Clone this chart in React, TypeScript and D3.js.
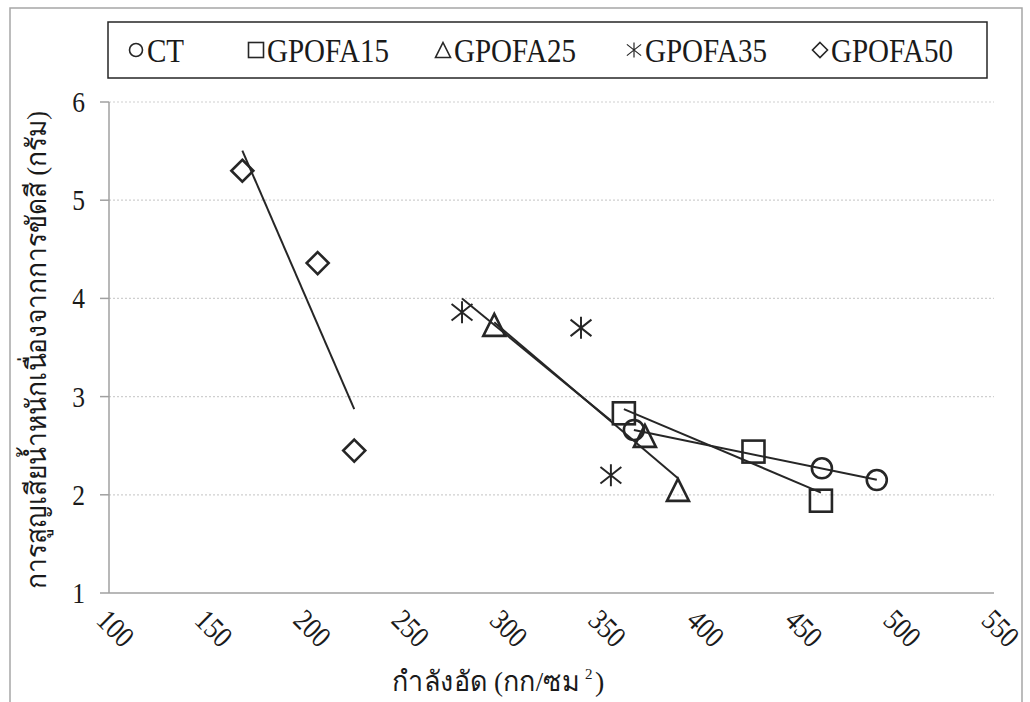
import React from "react";
import * as d3 from "d3";

const xTicks = [100, 150, 200, 250, 300, 350, 400, 450, 500, 550];
const yTicks = [1, 2, 3, 4, 5, 6];

const ctX = [366.9, 462.5, 490.4];
const ctY = [2.66, 2.27, 2.15];
const g15X = [361.8, 427.7, 462.0];
const g15Y = [2.83, 2.44, 1.94];
const g25X = [295.9, 372.5, 389.3];
const g25Y = [3.73, 2.6, 2.05];
const g35X = [279.5, 340.0, 355.2];
const g35Y = [3.86, 3.7, 2.2];
const g50X = [167.8, 206.1, 224.7];
const g50Y = [5.3, 4.36, 2.45];

const seriesNames = ["CT", "GPOFA15", "GPOFA25", "GPOFA35", "GPOFA50"];
const seriesShapes = ["circle", "square", "triangle", "star", "diamond"];
const seriesX = [ctX, g15X, g25X, g35X, g50X];
const seriesY = [ctY, g15Y, g25Y, g35Y, g50Y];

const yTitle = "การสูญเสียน้ำหนักเนื่องจากการขัดสี (กรัม)";
const xTitle = "กำลังอัด (กก/ซม";

const INK = "#262626";
const FONT = "'Liberation Serif', 'DejaVu Serif', serif";
const THAI = "Norasi, Kinnari, 'TH Sarabun New', 'Liberation Serif', serif";
const SX = 0.85;

function Marker({ shape, cx, cy, s, sw }: { shape: string; cx: number; cy: number; s: number; sw: number }) {
  const h = s / 2;
  if (shape === "circle") return <circle cx={cx} cy={cy} r={h - 1} fill="none" stroke={INK} strokeWidth={sw} />;
  if (shape === "square")
    return <rect x={cx - h} y={cy - h} width={s} height={s} fill="none" stroke={INK} strokeWidth={sw} />;
  if (shape === "triangle")
    return (
      <path d={`M${cx},${cy - h}L${cx + h},${cy + h}L${cx - h},${cy + h}Z`} fill="none" stroke={INK} strokeWidth={sw} />
    );
  if (shape === "diamond")
    return (
      <path d={`M${cx},${cy - h}L${cx + h},${cy}L${cx},${cy + h}L${cx - h},${cy}Z`} fill="none" stroke={INK} strokeWidth={sw} />
    );
  const a = h * 0.95;
  const b = h * 0.75;
  return (
    <path
      d={`M${cx},${cy - h}L${cx},${cy + h}M${cx - a},${cy - b}L${cx + a},${cy + b}M${cx - a},${cy + b}L${cx + a},${cy - b}`}
      fill="none"
      stroke={INK}
      strokeWidth={sw * 0.75}
    />
  );
}

function T({ x, y, size, anchor, rotate, children, sx }: any) {
  return (
    <g transform={`translate(${x},${y}) rotate(${rotate || 0}) scale(${sx || SX},1)`}>
      <text fontFamily={FONT} fontSize={size} textAnchor={anchor || "start"} fill="#1a1a1a">
        {children}
      </text>
    </g>
  );
}

export default function App() {
  const x = d3.scaleLinear().domain([100, 550]).range([109, 994]);
  const y = d3.scaleLinear().domain([1, 6]).range([593, 102]);

  const trend = (xs: number[], ys: number[]) => {
    const mx = d3.mean(xs)!;
    const my = d3.mean(ys)!;
    const sxy = d3.sum(xs.map((v, i) => (v - mx) * (ys[i] - my)));
    const sxx = d3.sum(xs.map((v) => (v - mx) * (v - mx)));
    const b = sxy / sxx;
    const [x0, x1] = d3.extent(xs) as [number, number];
    const line = d3.line<[number, number]>().x((d) => x(d[0])).y((d) => y(d[1]));
    return line([
      [x0, my + b * (x0 - mx)],
      [x1, my + b * (x1 - mx)],
    ])!;
  };

  const legendX = [128, 248, 435, 626, 812];

  return (
    <svg width={1030} height={702} style={{ position: "absolute", left: 0, top: 0, background: "#fff" }}>
      <rect x={10} y={8} width={1012} height={700} fill="#fff" stroke="#a6a6a6" strokeWidth={1.5} />
      {yTicks.filter((t) => t > 1).map((t) => (
        <line key={t} x1={x(100)} x2={x(550)} y1={y(t)} y2={y(t)} stroke="#cfcfcf" strokeWidth={1.2} strokeDasharray="2,2" />
      ))}
      {yTicks.map((t) => (
        <line key={"yt" + t} x1={x(100) - 9} x2={x(100)} y1={y(t)} y2={y(t)} stroke="#a0a0a0" strokeWidth={1.5} />
      ))}
      <line x1={x(100)} x2={x(100)} y1={y(6)} y2={y(1)} stroke="#a0a0a0" strokeWidth={1.5} />
      <line x1={x(100)} x2={x(550)} y1={y(1)} y2={y(1)} stroke="#a0a0a0" strokeWidth={1.5} />
      {yTicks.map((t) => (
        <T key={"yl" + t} x={85} y={y(t) + 10} size={30} anchor="end">
          {t}
        </T>
      ))}
      {xTicks.map((t) => (
        <T key={"xl" + t} x={x(t) - 14} y={622} size={30} rotate={45}>
          {t}
        </T>
      ))}
      {seriesX.map((xs, si) =>
        xs.map((v, i) => (
          <Marker key={si + "-" + i} shape={seriesShapes[si]} cx={x(v)} cy={y(seriesY[si][i])} s={22} sw={2.6} />
        ))
      )}
      {seriesX.map((xs, si) => (
        <path key={"tr" + si} d={trend(xs, seriesY[si])} fill="none" stroke={INK} strokeWidth={2} />
      ))}
      <rect x={108} y={22} width={879} height={56} fill="#fff" stroke={INK} strokeWidth={1.5} />
      {seriesNames.map((n, i) => (
        <g key={n}>
          <Marker shape={seriesShapes[i]} cx={legendX[i] + 8} cy={50} s={15} sw={1.6} />
          <T x={legendX[i] + 19} y={62} size={33} sx={0.88}>
            {n}
          </T>
        </g>
      ))}
      <g transform="translate(46,350) rotate(-90)">
        <text fontFamily={THAI} fontSize={28} textAnchor="middle" fill="#1a1a1a" textLength={478} lengthAdjust="spacingAndGlyphs">
          {yTitle}
        </text>
      </g>
      <text x={392} y={691} fontFamily={THAI} fontSize={28} fill="#1a1a1a" textLength={187} lengthAdjust="spacingAndGlyphs">
        {xTitle}
      </text>
      <text x={585} y={679} fontFamily={FONT} fontSize={15} fill="#1a1a1a">
        2
      </text>
      <text x={595} y={691} fontFamily={THAI} fontSize={28} fill="#1a1a1a">
        )
      </text>
    </svg>
  );
}
